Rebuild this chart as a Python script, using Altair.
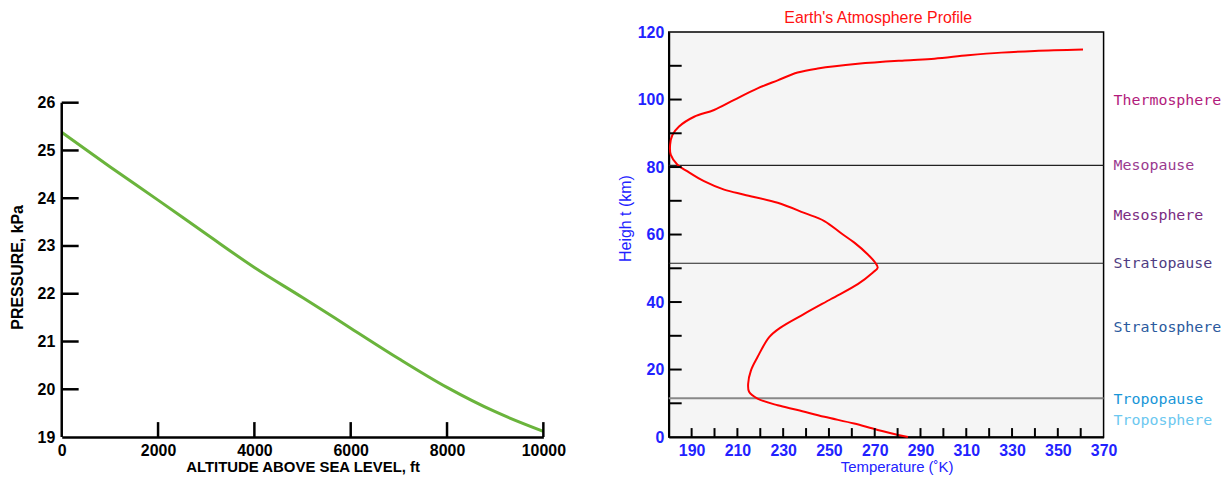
import altair as alt
import pandas as pd

# ---------------- Left chart: pressure vs altitude ----------------
ALT_FT = [0, 1000, 2000, 3000, 4000, 5000, 6000, 7000, 8000, 9000, 10000]
PRESSURE_KPA = [25.38, 24.66, 23.96, 23.25, 22.55, 21.92, 21.28, 20.64, 20.04, 19.53, 19.12]
LEFT_Y_TICKS = [19, 20, 21, 22, 23, 24, 25, 26]
LEFT_X_TICKS = [0, 2000, 4000, 6000, 8000, 10000]

# ---------------- Right chart: atmosphere profile ----------------
TEMP_K = [284.5, 271.3, 261.0, 248.0, 236.3, 227.6, 218.8, 215.1, 214.7, 215.9,
          218.8, 223.9, 229.0, 239.2, 250.9, 262.6, 269.1, 271.3, 270.2, 267.0,
          261.1, 255.5, 248.0, 239.2, 227.6, 213.0, 204.2, 195.4, 188.2, 183.8,
          180.9, 180.6, 181.6, 184.5, 191.1, 199.8, 208.6, 218.8, 227.6, 236.3,
          245.1, 262.6, 283.0, 296.1, 310.7, 325.3, 339.9, 361.0]
HEIGHT_KM = [0.0, 2.1, 4.0, 6.0, 8.0, 9.4, 11.4, 13.4, 15.8, 19.7,
             23.7, 29.6, 32.5, 36.5, 40.9, 45.3, 48.7, 50.2, 51.7, 54.1,
             57.6, 60.3, 64.0, 66.4, 69.4, 71.8, 73.3, 75.8, 78.7, 80.7,
             83.6, 86.6, 89.5, 92.0, 94.9, 96.9, 99.9, 103.3, 105.7, 108.0,
             109.2, 110.6, 111.6, 112.1, 113.1, 113.9, 114.4, 114.8]
RIGHT_Y_TICKS = [0, 10, 20, 30, 40, 50, 60, 70, 80, 90, 100, 110, 120]
RIGHT_X_TICKS = [190, 200, 210, 220, 230, 240, 250, 260, 270, 280, 290, 300,
                 310, 320, 330, 340, 350, 360, 370]
BOUNDARY_H = [80.5, 51.5, 11.5]
BOUNDARY_COLORS = ["#222222", "#222222", "#888888"]
BOUNDARY_WIDTHS = [1.2, 1.2, 2.0]
LAYER_NAMES = ["Thermosphere", "Mesopause", "Mesosphere", "Stratopause",
               "Stratosphere", "Tropopause", "Troposphere"]
LAYER_H = [100.0, 80.5, 65.7, 51.5, 32.5, 11.4, 5.0]
LAYER_COLORS = ["#b21b7c", "#9a3a8f", "#7b2c82", "#4f3c82", "#2b5a9e",
                "#1896d8", "#6cc8f0"]

LW, LH = 484, 407
RW, RH = 437, 407
PX_PER_KPA = 48.0
BLUE = "#2222ff"
SANS = "Liberation Sans"

left_df = pd.DataFrame({"alt": ALT_FT, "p": PRESSURE_KPA})
ytick_df = pd.DataFrame({"v": LEFT_Y_TICKS[1:]})
xtick_df = pd.DataFrame({"v": LEFT_X_TICKS[1:]})
yline_df = pd.DataFrame({"lo": [min(LEFT_Y_TICKS)], "hi": [max(LEFT_Y_TICKS)]})

xs = alt.Scale(domain=[0, 10000], nice=False, zero=False)
ys = alt.Scale(domain=[19, 19 + LH / PX_PER_KPA], nice=False, zero=False)

left_line = alt.Chart(left_df).mark_line(
    color="#6ab43c", strokeWidth=3, interpolate="monotone"
).encode(
    x=alt.X("alt:Q", scale=xs, axis=alt.Axis(
        values=LEFT_X_TICKS, format="d", title="ALTITUDE ABOVE SEA LEVEL, ft",
        tickSize=0, domainColor="black", domainWidth=2.5, labelFont=SANS,
        labelFontSize=16, labelFontWeight="bold", labelColor="black",
        labelPadding=6, titleFont=SANS, titleFontSize=15, titleFontWeight="bold",
        titleColor="black", titlePadding=1, grid=False, labelFlush=False)),
    y=alt.Y("p:Q", scale=ys, axis=alt.Axis(
        values=LEFT_Y_TICKS, title="PRESSURE, kPa", tickSize=0, domain=False,
        labelFont=SANS, labelFontSize=16, labelFontWeight="bold",
        labelColor="black", labelPadding=7, titleFont=SANS, titleFontSize=16,
        titleFontWeight="bold", titleColor="black", titlePadding=12,
        titleY=LH - 3.5 * PX_PER_KPA - 3, grid=False)),
)
left_yline = alt.Chart(yline_df).mark_rule(color="black", strokeWidth=2.5).encode(
    x=alt.value(0), y=alt.Y("lo:Q", scale=ys), y2="hi:Q")
left_yticks = alt.Chart(ytick_df).mark_rule(color="black", strokeWidth=2.5).encode(
    x=alt.value(0), x2=alt.value(17), y=alt.Y("v:Q", scale=ys))
left_xticks = alt.Chart(xtick_df).mark_rule(color="black", strokeWidth=2.5).encode(
    x=alt.X("v:Q", scale=xs), y=alt.value(LH), y2=alt.value(LH - 15))

left = alt.layer(left_line, left_yline, left_yticks, left_xticks).properties(
    width=LW, height=LH, view=alt.ViewBackground(stroke="transparent"))

# ---------------- right ----------------
right_df = pd.DataFrame({"T": TEMP_K, "h": HEIGHT_KM})
rys = alt.Scale(domain=[0, 120], nice=False, zero=False)
rxs = alt.Scale(domain=[180, 370], nice=False, zero=False)

bnd_df = pd.DataFrame({"h": BOUNDARY_H, "c": BOUNDARY_COLORS, "w": BOUNDARY_WIDTHS})
lab_df = pd.DataFrame({"name": LAYER_NAMES, "h": LAYER_H, "c": LAYER_COLORS})
rytick_df = pd.DataFrame({"v": RIGHT_Y_TICKS[1:-1]})
rxtick_df = pd.DataFrame({"v": RIGHT_X_TICKS[:-1]})

bounds = alt.Chart(bnd_df).mark_rule().encode(
    y=alt.Y("h:Q", scale=rys), x=alt.value(0), x2=alt.value(RW),
    color=alt.Color("c:N", scale=None), strokeWidth=alt.StrokeWidth("w:Q", scale=None))

curve = alt.Chart(right_df).mark_line(
    color="#ff0000", strokeWidth=2, interpolate="catmull-rom"
).encode(
    x=alt.X("T:Q", scale=rxs, axis=alt.Axis(
        values=RIGHT_X_TICKS, tickSize=0, title="Temperature (˚K)",
        labelExpr="(datum.value - 190) % 20 == 0 ? datum.label : ''",
        domainColor="black", domainWidth=2, labelFont=SANS, labelFontSize=16,
        labelFontWeight="bold", labelColor=BLUE, labelPadding=6,
        titleFont=SANS, titleFontSize=15, titleFontWeight="normal",
        titleColor=BLUE, titlePadding=1, titleX=229, grid=False,
        labelFlush=False)),
    y=alt.Y("h:Q", scale=rys, axis=alt.Axis(
        values=RIGHT_Y_TICKS, tickSize=0, title="Heigh t (km)",
        domainColor="black", domainWidth=2, labelFont=SANS, labelFontSize=16,
        labelFontWeight="bold", labelColor=BLUE, labelPadding=5,
        titleFont=SANS, titleFontSize=16, titleFontWeight="normal",
        titleColor=BLUE, titlePadding=4, titleY=187, grid=False,
        labelFlush=False)),
    order=alt.Order("h:Q"),
)
rticks_y = alt.Chart(rytick_df).mark_rule(color="black", strokeWidth=2).encode(
    x=alt.value(0), x2=alt.value(13), y=alt.Y("v:Q", scale=rys))
rticks_x = alt.Chart(rxtick_df).mark_rule(color="black", strokeWidth=2).encode(
    x=alt.X("v:Q", scale=rxs), y=alt.value(RH), y2=alt.value(RH - 9))
labels = alt.Chart(lab_df).mark_text(
    align="left", baseline="middle", font="DejaVu Sans Mono", fontSize=15
).encode(
    x=alt.value(RW + 10), y=alt.Y("h:Q", scale=rys), text="name:N",
    color=alt.Color("c:N", scale=None))

right = alt.layer(bounds, curve, rticks_y, rticks_x, labels).properties(
    width=RW, height=RH,
    title=alt.TitleParams("Earth's Atmosphere Profile", color="#ff1111",
                          font=SANS, fontSize=16, fontWeight="normal",
                          anchor="middle", frame="group", offset=-2, dx=-8),
    view=alt.ViewBackground(fill="#f5f5f5", stroke="black", strokeWidth=1.5))

chart = alt.hconcat(left, right, spacing=50, padding=0).configure(background="white")

chart.save("out.html", embed_options={"renderer": "svg", "actions": False})
